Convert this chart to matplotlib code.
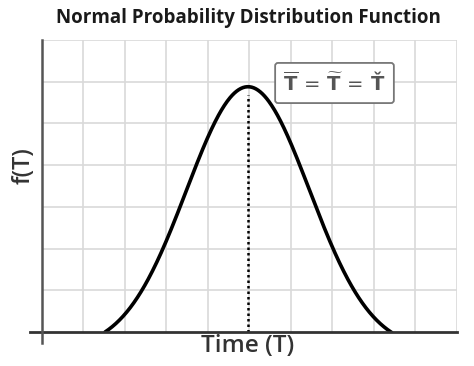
import numpy as np
import matplotlib
matplotlib.use("Agg")
import matplotlib.pyplot as plt

# Data (in grid units: 10 columns x 7 rows)
mean_t = 4.97          # location of the peak
sigma_t = 1.48         # spread of the curve
peak_height = 5.88     # f(T) at the mean
t_start, t_end = 1.53, 8.43   # where the drawn curve meets the time axis
x_grid = list(range(0, 11))
y_grid = list(range(0, 8))
title = "Normal Probability Distribution Function"
x_label = "Time (T)"
y_label = "f(T)"
box_text = r"$\overline{\mathbf{T}}\,=\,\widetilde{\mathbf{T}}\,=\,\mathbf{Ť}$"

plt.rcParams['font.family'] = ['Open Sans', 'DejaVu Sans']
plt.rcParams['mathtext.fontset'] = 'dejavusans'

fig = plt.figure(figsize=(4.74, 3.66), dpi=100)
ax = fig.add_axes([41.5/474, (366-332)/366, (457-41.5)/474, (332-40)/366])
ax.set_xlim(0, 10)
ax.set_ylim(0, 7)

for xv in x_grid[1:]:
    ax.axvline(xv, color='#d9d9d9', lw=1.2, zorder=0)
for yv in y_grid[1:]:
    ax.axhline(yv, color='#d9d9d9', lw=1.2, zorder=0)

t = np.linspace(t_start, t_end, 400)
g = np.exp(-0.5 * ((t - mean_t) / sigma_t) ** 2)
g_end = np.exp(-0.5 * ((t_start - mean_t) / sigma_t) ** 2)
f = peak_height * (g - g_end) / (1 - g_end)
ax.plot(t, f, color='black', lw=2.6, solid_capstyle='round', zorder=3)

ax.plot([mean_t, mean_t], [0, peak_height - 0.2], color='black', lw=1.8,
        linestyle=(0, (1, 1.2)), zorder=2)

for s in ax.spines.values():
    s.set_visible(False)
ax.set_xticks([])
ax.set_yticks([])

# axes lines (extending past the origin)
ax.plot([-0.28, 10], [0, 0], color='#333333', lw=2.0, clip_on=False, zorder=4)
ax.plot([0, 0], [-0.27, 7], color='#555555', lw=1.8, clip_on=False, zorder=4)

ax.text(334.5/474, 1 - 83/366, box_text, transform=fig.transFigure,
        fontsize=14, color='#555555', ha='center', va='center',
        bbox=dict(boxstyle='round,pad=0.42,rounding_size=0.15', fc='white', ec='#777777', lw=1.3),
        zorder=5)

fig.text(248/474, 1 - 18/366, title, fontsize=13.5, fontweight='bold', color='#1a1a1a',
         ha='center', va='center')
fig.text(248/474, 1 - 346/366, x_label, fontsize=17.5, fontweight='semibold', color='#333333',
         ha='center', va='center')
fig.text(24/474, 1 - 166/366, y_label, fontsize=17, fontweight='semibold', color='#333333',
         ha='center', va='center', rotation=90)

fig.savefig('out.png', dpi=100, facecolor='white')
